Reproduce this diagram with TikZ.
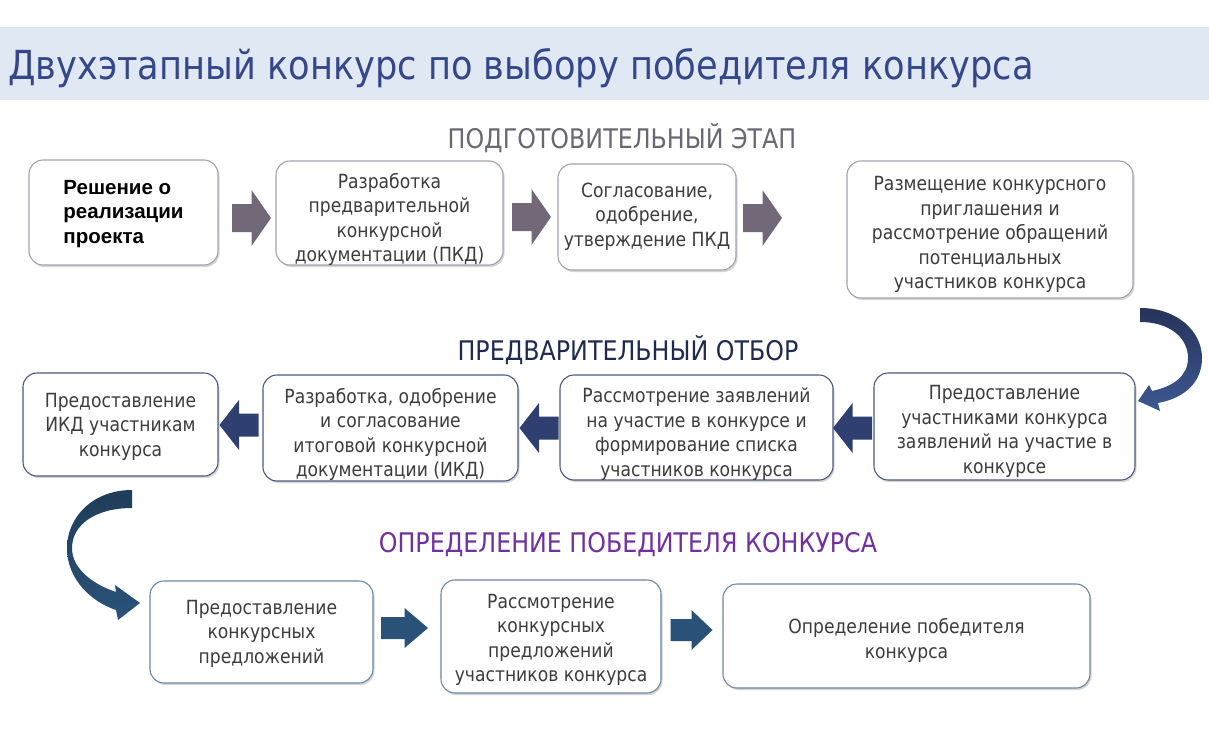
\documentclass[tikz,border=0pt]{standalone}
\usepackage{fontspec}
\setmainfont{DejaVu Sans}[FakeStretch=0.88]
\newfontfamily\arialfont{Liberation Sans}
\usetikzlibrary{shadows}
\definecolor{titlebg}{HTML}{DFE8F3}
\definecolor{titlefg}{HTML}{34478A}
\definecolor{txt}{HTML}{3C3C3C}
\definecolor{hdA}{HTML}{6B6772}
\definecolor{hdB}{HTML}{1F2A50}
\definecolor{hdC}{HTML}{7030A0}
\definecolor{bdA}{HTML}{A8A0B0}
\definecolor{bdB}{HTML}{4A5A80}
\definecolor{bdC}{HTML}{6D87A8}
\definecolor{arA}{HTML}{736878}
\definecolor{arB}{HTML}{2F4070}
\definecolor{arBl}{HTML}{3D5992}
\definecolor{arC}{HTML}{2A5278}
\newcommand{\blkarrow}[7]{%
  \fill[#7, shift={(#1,#2)}, xscale=#3]
    (-#4/2,-#5) -- (0,-#5) -- (0,-#6) -- (#4/2,0) -- (0,#6) -- (0,#5) -- (-#4/2,#5) -- cycle;}
% text block shifted down by #1 without changing its reported size
\newcommand{\tx}[3][c]{\raisebox{-#2pt}[\height][\depth]{\begin{tabular}{@{}#1@{}}#3\end{tabular}}}
\begin{document}
\begin{tikzpicture}[x=1pt,y=-1pt,
  box/.style={draw, rounded corners=14pt, fill=white, line width=1.1pt,
    align=center, text=txt, inner sep=2pt,
    font=\fontsize{19.5}{24.5}\selectfont,
    drop shadow={shadow xshift=1.5pt, shadow yshift=-2pt, fill=black!40, opacity=0.4}},
  boxA/.style={box, draw=bdA},
  boxB/.style={box, draw=bdB},
  boxC/.style={box, draw=bdC},
  hdr/.style={font=\fontsize{27}{30}\selectfont, inner sep=0pt}
]
\useasboundingbox (0,0) rectangle (1209,738);
\fill[white] (0,0) rectangle (1209,738);
\fill[titlebg] (0,27) rectangle (1209,100);
\node[anchor=base west, inner sep=0pt, text=titlefg, font=\fontsize{40}{44}\selectfont] (title) at (8,80)
  {Двухэтапный конкурс по выбору победителя конкурса};

% headers
\node[hdr, text=hdA] (h1) at (622,138) {ПОДГОТОВИТЕЛЬНЫЙ ЭТАП};
\node[hdr, text=hdB] (h2) at (628,350) {ПРЕДВАРИТЕЛЬНЫЙ ОТБОР};
\node[hdr, text=hdC] (h3) at (628,545) {ОПРЕДЕЛЕНИЕ ПОБЕДИТЕЛЯ КОНКУРСА};

% row 1
\node[boxA, minimum width=189pt, minimum height=105pt, text=black,
  font=\arialfont\bfseries\fontsize{20.5}{24.5}\selectfont] (b1) at (123.5,212.5)
  {\tx[l]{1.5}{Решение о\\реализации\\проекта}};
\node[boxA, minimum width=227pt, minimum height=104pt] (b2) at (389.5,213)
  {\tx{7}{Разработка\\предварительной\\конкурсной\\документации (ПКД)}};
\node[boxA, minimum width=178pt, minimum height=106pt] (b3) at (647,217)
  {\tx{0}{Согласование,\\одобрение,\\утверждение ПКД}};
\node[boxA, minimum width=286pt, minimum height=137pt] (b4) at (990,229.5)
  {\tx{5.5}{Размещение конкурсного\\приглашения и\\рассмотрение обращений\\потенциальных\\участников конкурса}};

% row 2
\node[boxB, minimum width=195pt, minimum height=103pt] (c1) at (120.5,424.5)
  {\tx{2.5}{Предоставление\\ИКД участникам\\конкурса}};
\node[boxB, minimum width=255pt, minimum height=106pt] (c2) at (390.5,428)
  {\tx{7}{Разработка, одобрение\\и согласование\\итоговой конкурсной\\документации (ИКД)}};
\node[boxB, minimum width=273pt, minimum height=105pt] (c3) at (696.5,427.5)
  {\tx{7}{Рассмотрение заявлений\\на участие в конкурсе и\\формирование списка\\участников конкурса}};
\node[boxB, minimum width=261pt, minimum height=107pt] (c4) at (1004.5,426.5)
  {\tx{5}{Предоставление\\участниками конкурса\\заявлений на участие в\\конкурсе}};

% row 3
\node[boxC, minimum width=223pt, minimum height=102pt] (d1) at (261.5,632)
  {\tx{2}{Предоставление\\конкурсных\\предложений}};
\node[boxC, minimum width=220pt, minimum height=113pt] (d2) at (551,636.5)
  {\tx{3.5}{Рассмотрение\\конкурсных\\предложений\\участников конкурса}};
\node[boxC, minimum width=367pt, minimum height=104pt] (d3) at (906.5,636)
  {\tx{5}{Определение победителя\\конкурса}};

% block arrows row 1
\blkarrow{251.5}{218}{1}{39}{14}{28}{arA}
\blkarrow{531.5}{217}{1}{39}{14}{28}{arA}
\blkarrow{762.5}{218}{1}{39}{14}{28}{arA}
% row 2 (pointing left)
\blkarrow{239}{425}{-1}{39}{11.5}{25}{arB}
\blkarrow{539}{428}{-1}{39}{11.5}{25}{arB}
\blkarrow{852.5}{428}{-1}{39}{11.5}{25}{arB}
% row 3
\blkarrow{404.5}{628}{1}{47}{11}{20}{arC}
\blkarrow{691.5}{630}{1}{42}{11}{20}{arC}

% curved arrow right side
\shade[top color=arB!80!black, bottom color=arBl]
  (1140,308) .. controls (1178,308) and (1202,332) .. (1202,358)
  .. controls (1202,382) and (1185,398) .. (1158,403)
  -- (1160,411) -- (1138,401) -- (1149,385) -- (1152,391)
  .. controls (1175,386) and (1188,375) .. (1188,358)
  .. controls (1188,338) and (1170,322) .. (1140,322) -- cycle;
% curved arrow left side
\shade[top color=arC!75!black, bottom color=arC]
  (132,490) .. controls (92,490) and (67,518) .. (67,548)
  .. controls (67,580) and (92,602) .. (116,610)
  -- (118,620) -- (140,603) -- (115,585) -- (116,592)
  .. controls (95,585) and (72,570) .. (72,548)
  .. controls (72,525) and (95,508) .. (132,508) -- cycle;
\end{tikzpicture}
\end{document}
